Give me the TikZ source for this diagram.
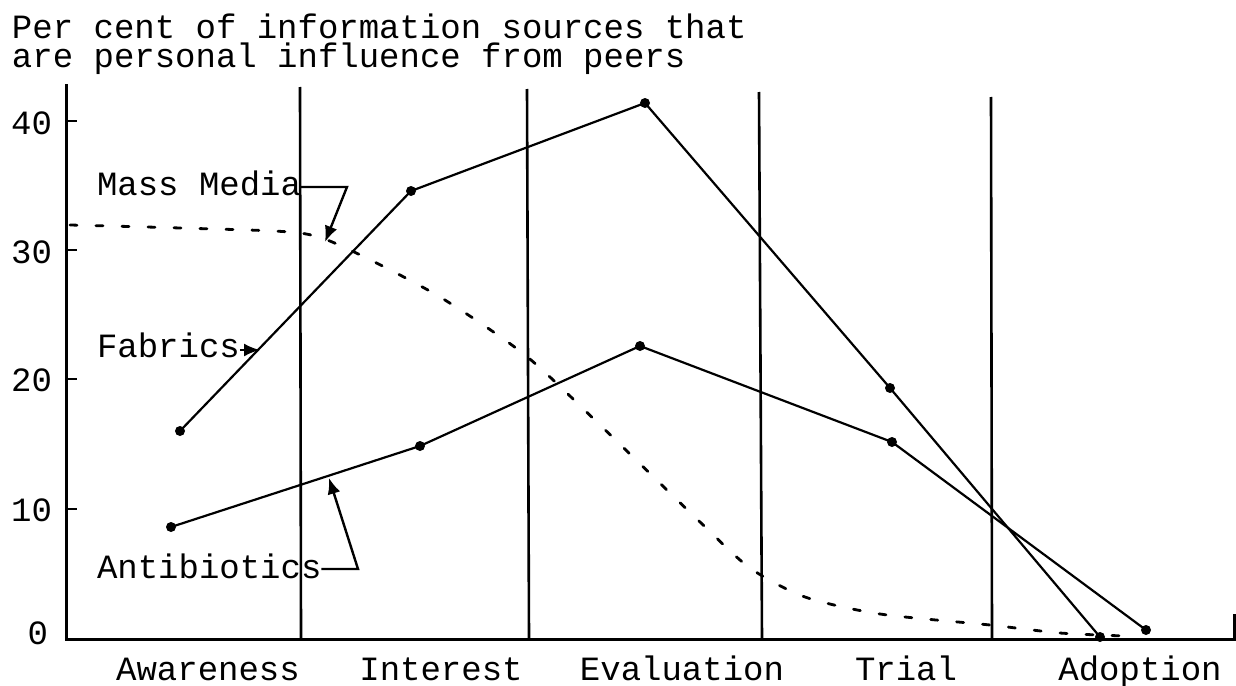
\documentclass[tikz,border=0pt]{standalone}
\usepackage{fontspec}
\setmainfont{Liberation Mono}
\usetikzlibrary{arrows.meta}
\begin{document}
\begin{tikzpicture}[x=1pt,y=-1pt,
  txt/.style={font=\fontsize{34}{36}\selectfont, inner sep=0pt, outer sep=0pt},
  axisline/.style={line width=3pt},
  stageline/.style={line width=2.6pt},
  tickline/.style={line width=2pt},
  dataline/.style={line width=2.2pt, line join=round},
  dot/.style={circle, fill=black, inner sep=0pt, minimum size=10pt},
  massline/.style={line width=2.8pt, dash pattern=on 7pt off 19pt, line cap=round},
  pointer/.style={line width=2.4pt, -{Latex[length=16pt,width=13pt]}}]
\fill[white] (0,0) rectangle (1236,685);
\useasboundingbox (0,0) rectangle (1236,685);

% title (one text of two lines)
\node[txt, font=\fontsize{34}{29}\selectfont, align=left, anchor=base west] (title) at (12,67)
  {Per cent of information sources that\\are personal influence from peers};

% axes
\coordinate (ytop) at (66,84);
\coordinate (origin) at (66,639);
\coordinate (xend) at (1236,639);
\draw[axisline] (ytop) -- (origin) -- (xend);
\draw[axisline] (1234,614) -- (1234,639);

% ticks and labels
\foreach \v/\yy in {10/509,20/379,30/250,40/121}{
  \draw[tickline] (66,\yy) -- (77,\yy);
}
\node[txt, anchor=east] (l40) at (52,123) {40};
\node[txt, anchor=east] (l30) at (52,252) {30};
\node[txt, anchor=east] (l20) at (52,380) {20};
\node[txt, anchor=east] (l10) at (52,510) {10};
\node[txt, anchor=east] (l0) at (48,633) {0};

% stage separators
\draw[stageline] (300,87) -- (301,639);
\draw[stageline] (527,89) -- (529,639);
\draw[stageline] (759,92) -- (762,639);
\draw[stageline] (991,97) -- (992,639);

% stage labels
\node[txt, anchor=base] (s1) at (208,680) {Awareness};
\node[txt, anchor=base] (s2) at (441,680) {Interest};
\node[txt, anchor=base] (s3) at (682,680) {Evaluation};
\node[txt, anchor=base] (s4) at (906,680) {Trial};
\node[txt, anchor=base] (s5) at (1140,680) {Adoption};

% Fabrics
\node[dot] (f1) at (180,431) {};
\node[dot] (f2) at (411,191) {};
\node[dot] (f3) at (645,103) {};
\node[dot] (f4) at (890,388) {};
\node[dot] (f5) at (1100,637) {};
\draw[dataline] (f1.center) -- (f2.center) -- (f3.center) -- (f4.center) -- (f5.center);

% Antibiotics
\node[dot] (a1) at (171,527) {};
\node[dot] (a2) at (420,446) {};
\node[dot] (a3) at (640,346) {};
\node[dot] (a4) at (892,442) {};
\node[dot] (a5) at (1146,630) {};
\draw[dataline] (a1.center) -- (a2.center) -- (a3.center) -- (a4.center) -- (a5.center);

% Mass media
\draw[massline] plot[smooth, tension=0.45] coordinates {
  (70,225) (180,228) (300,233) (352,251) (440,297) (525,355)
  (600,425) (700,522) (750,568) (805,597) (880,614) (990,625) (1060,633) (1125,636)};

% labels with pointers
\node[txt, anchor=base west] (mm) at (97,195) {Mass Media};
\node[txt, anchor=base west] (fab) at (97,357) {Fabrics};
\node[txt, anchor=base west] (ant) at (97,578) {Antibiotics};

\coordinate (mmk) at (347,187);
\coordinate (mmt) at (325,242);
\draw[pointer] (mm.east |- mmk) -- (mmk) -- (mmt);

\coordinate (fabt) at (260,350);
\draw[pointer] (fab.east |- fabt) -- (fabt);

\coordinate (antk) at (358,569);
\coordinate (antt) at (329,478);
\draw[pointer] (ant.east |- antk) -- (antk) -- (antt);
\end{tikzpicture}
\end{document}
